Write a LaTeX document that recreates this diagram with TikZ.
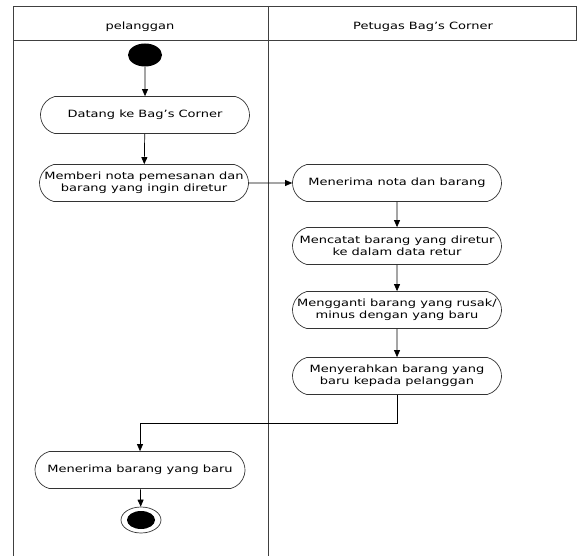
\documentclass[tikz,border=0pt]{standalone}
\usepackage{fontspec}
\setmainfont[FakeStretch=1.3]{DejaVu Sans}
\usetikzlibrary{shapes.geometric,shapes.misc,arrows.meta}
\begin{document}
\begin{tikzpicture}[x=1pt,y=-1pt]
      \tikzstyle{act}=[draw=black!80, line width=0.7pt, rounded rectangle,
        rounded rectangle arc length=150, minimum width=213pt,
        minimum height=37pt, align=center, inner sep=2pt,
        font=\fontsize{10}{12}\selectfont]
      \tikzstyle{arr}=[line width=0.7pt, -{Triangle[length=7pt,width=6pt]}]
      \useasboundingbox (0,0) rectangle (578,556);

      % lanes
      \draw[black!75, line width=0.9pt]
        (13,6) rectangle (576,40)
        (13,40) -- (13,556)
        (268,6) -- (268,556);
      \path (140,27) node[font=\fontsize{10}{12}\selectfont] (l0) {pelanggan};
      \path (423,27) node[font=\fontsize{10}{12}\selectfont] (l1) {Petugas Bag’s Corner};

      \path (145,55) node[ellipse, fill=black, minimum width=34pt, minimum height=23pt, inner sep=0pt] (start) {};
      \path (145,115) node[act] (a1) {Datang ke Bag’s Corner};
      \path (144,183) node[act] (a2) {Memberi nota pemesanan dan\\barang yang ingin diretur};
      \path (140,470) node[act, minimum width=214pt] (a3) {Menerima barang yang baru};

      \path (397,183) node[act] (b1) {Menerima nota dan barang};
      \path (397,246) node[act] (b2) {Mencatat barang yang diretur\\ke dalam data retur};
      \path (397,310) node[act] (b3) {Mengganti barang yang rusak/\\minus dengan yang baru};
      \path (397,376) node[act] (b4) {Menyerahkan barang yang\\baru kepada pelanggan};

      \path (141,520) node[ellipse, draw=black!80, line width=0.7pt, minimum width=40pt, minimum height=26pt, inner sep=0pt] (end) {};
      \fill (end.center) ellipse (14pt and 9pt);

      \draw[arr] (start) -- (a1);
      \draw[arr] (a1) -- (a2);
      \draw[arr] (a2) -- (b1);
      \draw[arr] (b1) -- (b2);
      \draw[arr] (b2) -- (b3);
      \draw[arr] (b3) -- (b4);
      \draw[arr] (b4.south) -- ++(0,28) -| (a3.north);
      \draw[arr] (a3) -- (end);
    \end{tikzpicture}
\end{document}
